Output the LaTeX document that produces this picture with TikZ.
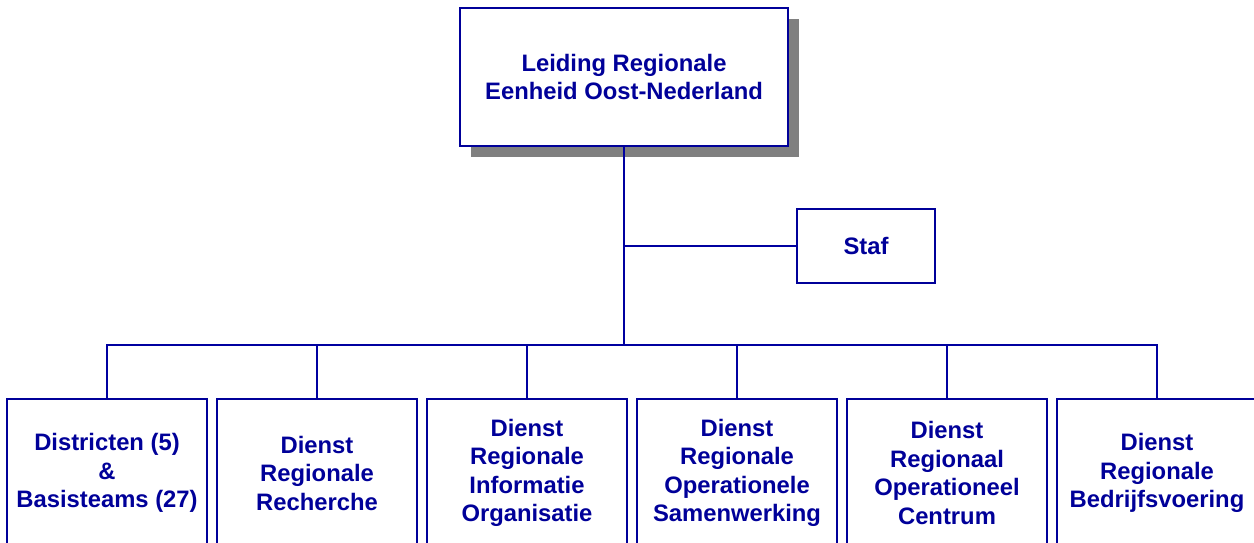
\documentclass[tikz,border=0pt]{standalone}
\usepackage{fontspec}
\setmainfont{Liberation Sans}
\usetikzlibrary{shadows}
\definecolor{navy}{RGB}{0,0,153}
\definecolor{lineblue}{RGB}{0,0,160}
\begin{document}
\begin{tikzpicture}[x=1pt,y=-1pt,
  box/.style={draw=navy, line width=1.3pt, fill=white, rectangle, inner sep=0pt,
    align=center, text=navy, font=\bfseries\fontsize{23.8}{28.5}\selectfont},
  topbox/.style={box, minimum width=328pt, minimum height=138pt,
    drop shadow={shadow xshift=11pt, shadow yshift=-11pt, fill=black!50, opacity=1}},
  stafbox/.style={box, minimum width=138pt, minimum height=74pt},
  unitbox/.style={box, minimum width=200pt, minimum height=148pt},
  conn/.style={draw=lineblue, line width=1.2pt},
  trunk/.style={draw=lineblue, line width=2pt}]
\useasboundingbox (0,0) rectangle (1254,543);
\fill[white] (0,0) rectangle (1254,543);

\coordinate (bus) at (624,345);
\coordinate (busL) at (317,345);
\coordinate (busR) at (947,345);

% nodes
\node[topbox] (top) at (624,77) {Leiding Regionale\\Eenheid Oost-Nederland};
\node[stafbox] (staf) at (866,246) {Staf};
\node[unitbox] (b1) at (107,473) {Districten (5)\\\&\\Basisteams (27)};
\node[unitbox] (b2) at (317,473) {Dienst\\Regionale\\Recherche};
\node[unitbox] (b3) at (527,473) {Dienst\\Regionale\\Informatie\\Organisatie};
\node[unitbox] (b4) at (737,473) {Dienst\\Regionale\\Operationele\\Samenwerking};
\node[unitbox] (b5) at (947,473) {Dienst\\Regionaal\\Operationeel\\Centrum};
\node[unitbox] (b6) at (1157,473) {Dienst\\Regionale\\Bedrijfsvoering};

% connectors
\draw[trunk] (top.south) -- (bus);
\draw[conn] (top.south |- staf.west) -- (staf.west);
\draw[trunk] (busL) -- (busR);
\draw[conn] (busL) -| (b1.north);
\draw[conn] (busL) -- (b2.north);
\draw[conn] (bus) -| (b3.north);
\draw[conn] (bus) -| (b4.north);
\draw[conn] (busR) -- (b5.north);
\draw[conn] (busR) -| (b6.north);
\end{tikzpicture}
\end{document}
